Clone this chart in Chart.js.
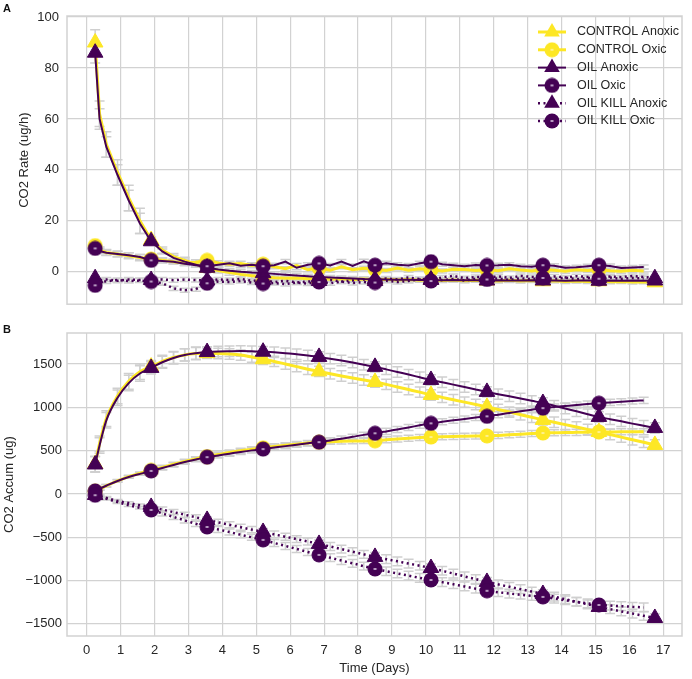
<!DOCTYPE html>
<html>
<head>
<meta charset="utf-8">
<script src="https://cdn.jsdelivr.net/npm/chart.js@4.4.1/dist/chart.umd.min.js"></script>
<style>
  html, body { margin: 0; padding: 0; background: #fff; }
  #wrap { position: relative; width: 692px; height: 679px; }
  canvas { position: absolute; left: 0; }
  #rateChart { top: 0; }
  #accumChart { top: 320px; }
</style>
</head>
<body>
<div id="wrap">
  <canvas id="rateChart" width="692" height="320"></canvas>
  <canvas id="accumChart" width="692" height="359"></canvas>
</div>
<script>
// sampling times (days) and the ones that carry a marker
const days = [0.25, 0.38, 0.58, 0.91, 1.24, 1.57, 1.90, 2.23, 2.56, 2.89,
  3.22, 3.55, 3.88, 4.21, 4.54, 4.87, 5.20, 5.53, 5.86, 6.19,
  6.52, 6.85, 7.18, 7.51, 7.84, 8.17, 8.50, 8.83, 9.16, 9.49,
  9.82, 10.15, 10.48, 10.81, 11.14, 11.47, 11.80, 12.13, 12.46, 12.79,
  13.12, 13.45, 13.78, 14.11, 14.44, 14.77, 15.10, 15.43, 15.76, 16.09,
  16.42, 16.75];
const markerDays = [0.25, 1.90, 3.55, 5.20, 6.85, 8.50, 10.15, 11.80, 13.45, 15.10, 16.75];

const seriesNames = ['CONTROL Anoxic', 'CONTROL Oxic', 'OIL Anoxic', 'OIL Oxic', 'OIL KILL Anoxic', 'OIL KILL Oxic'];

// panel A : CO2 rate (ug/h)
const ctrlAnoxRate = [90, 62, 50, 39, 29, 20, 12.5, 8.5, 6, 4.5,
  3, 1.5, 0.5, -0.3, -1, -1.5, -2, -2.3, -2.5, -2.4,
  -2.7, -2.6, -2.9, -2.7, -3.0, -2.8, -3.1, -2.9, -3.2, -3.0,
  -3.3, -3.1, -3.4, -3.2, -3.5, -3.3, -3.4, -3.6, -3.3, -3.6,
  -3.4, -3.7, -3.5, -3.8, -3.6, -3.8, -3.7, -3.9, -3.8, -4.0,
  -3.9, -4.1];
const ctrlOxRate = [10.3, 8.5, 7.6, 7, 6.3, 5.6, 5, 4.6, 4, 3.5,
  3.8, 4.5, 3.5, 3.0, 3.3, 2.5, 3.0, 2.0, 1.2, 2.5,
  0.8, 1.5, 0.6, 2.0, 0.8, 1.4, 1.0, 0.5, 1.5, 0.6,
  1.2, 0.8, 0.3, 1.0, 0.9, 0.5, 0.8, 0.4, 1.2, 0.7,
  0.3, 0.9, 0.6, 0.2, 0.8, 0.5, 0.9, 0.4, 0.2, 0.6,
  0.3, null];
const oilAnoxRate = [86, 60, 49, 38, 28, 19, 12, 8, 5.5, 4,
  2.8, 1.6, 0.9, 0.4, 0, -0.3, -0.5, -0.8, -1.1, -1.4,
  -1.7, -2.0, -2.2, -2.4, -2.6, -2.8, -2.9, -3.0, -3.1, -3.1,
  -3.2, -3.2, -3.3, -3.2, -3.3, -3.3, -3.4, -3.3, -3.4, -3.4,
  -3.3, -3.4, -3.4, -3.5, -3.4, -3.4, -3.5, -3.4, -3.5, -3.4,
  -3.5, -3.4];
const oilOxRate = [9.2, 8.2, 7.5, 7, 6.5, 5.8, 4.5, 4.3, 4, 3.2,
  2.6, 2.2, 2.8, 3.4, 2.4, 2.8, 2.2, 2.6, 4.0, 1.6,
  2.8, 3.3, 2.5, 4.0, 2.3, 4.1, 2.6, 3.4, 2.8, 2.5,
  3.4, 4.0, 3.0, 2.6, 2.2, 2.7, 2.5, 2.6, 2.8, 2.2,
  2.0, 2.6, 2.4, 1.6, 1.8, 2.2, 2.6, 2.3, 1.5, 1.7,
  1.9, null];
const killAnoxRate = [-2.5, -3.3, -3.0, -3.5, -3.0, -3.2, -3.2, -3.0, -3.3, -3.0,
  -3.2, -3.4, -3.0, -3.2, -2.8, -3.5, -3.2, -4.0, -3.5, -4.2,
  -3.8, -3.6, -3.2, -3.8, -3.4, -3.0, -3.6, -2.6, -3.0, -2.2,
  -2.8, -3.0, -2.2, -1.6, -2.5, -2.0, -2.2, -1.8, -2.4, -1.6,
  -2.0, -2.3, -1.8, -2.2, -1.7, -2.0, -2.4, -1.8, -2.1, -1.6,
  -2.0, -2.5];
const killOxRate = [-5.3, -3.5, -3.8, -3.2, -3.6, -3.4, -3.8, -4.5, -6.5, -7.2,
  -6.8, -4.5, -3.8, -4.0, -3.6, -4.2, -4.6, -4.4, -4.8, -4.2,
  -4.6, -4.0, -4.5, -3.8, -4.4, -4.0, -4.2, -3.5, -4.0, -3.6,
  -3.0, -3.6, -3.2, -2.8, -3.4, -2.7, -3.0, -2.6, -3.2, -2.5,
  -2.9, -2.4, -2.8, -2.3, -2.9, -2.4, -2.7, -2.2, -2.8, -2.4,
  -2.6, null];

// panel B : CO2 accumulated (ug)
const ctrlAnoxAcc = [345, 580, 870, 1130, 1300, 1410, 1470, 1530, 1575, 1605,
  1620, 1625, 1622, 1615, 1603, 1580, 1555, 1530, 1500, 1470,
  1440, 1415, 1388, 1362, 1338, 1315, 1293, 1265, 1235, 1205,
  1175, 1143, 1115, 1087, 1060, 1033, 1005, 975, 945, 915,
  885, 855, 827, 800, 772, 744, 716, 686, 656, 626,
  596, 566];
const ctrlOxAcc = [30, 58, 95, 152, 200, 238, 272, 307, 342, 376,
  405, 432, 455, 478, 498, 515, 532, 548, 562, 575,
  587, 597, 603, 607, 610, 612, 614, 625, 635, 644,
  651, 657, 661, 664, 666, 668, 670, 676, 683, 690,
  697, 703, 706, 709, 711, 713, 715, 716, 717, 717,
  718, null];
const oilAnoxAcc = [340, 560, 850, 1110, 1280, 1390, 1455, 1520, 1570, 1605,
  1625, 1638, 1645, 1648, 1650, 1648, 1642, 1635, 1625, 1612,
  1598, 1582, 1562, 1540, 1517, 1492, 1467, 1438, 1408, 1378,
  1347, 1316, 1289, 1262, 1234, 1206, 1178, 1152, 1127, 1101,
  1075, 1050, 1018, 986, 954, 921, 889, 863, 838, 812,
  787, 762];
const oilOxAcc = [35, 60, 95, 150, 195, 232, 266, 300, 335, 368,
  398, 425, 445, 465, 485, 503, 518, 535, 552, 568,
  584, 598, 618, 638, 660, 682, 700, 722, 745, 768,
  792, 815, 833, 850, 866, 882, 896, 915, 935, 955,
  973, 990, 1003, 1015, 1027, 1038, 1047, 1057, 1065, 1073,
  1080, null];
const killAnoxAcc = [-12, -25, -45, -80, -105, -130, -150, -180, -210, -240,
  -270, -300, -328, -356, -384, -412, -439, -467, -494, -522,
  -549, -577, -607, -637, -667, -697, -727, -753, -778, -804,
  -829, -855, -887, -919, -952, -984, -1016, -1044, -1072, -1099,
  -1127, -1155, -1185, -1215, -1245, -1275, -1305, -1330, -1356, -1381,
  -1407, -1432];
const killOxAcc = [-15, -30, -55, -95, -130, -160, -185, -225, -265, -305,
  -345, -381, -410, -440, -471, -501, -531, -566, -600, -635,
  -670, -704, -736, -769, -801, -834, -866, -892, -918, -943,
  -969, -993, -1018, -1043, -1068, -1094, -1118, -1135, -1150, -1164,
  -1177, -1189, -1208, -1227, -1245, -1264, -1282, -1289, -1296, -1303,
  -1310, null];

// error (+/-) per marker interval
const rateErr = [
  [5, 1.2, 1, 0.8, 0.8, 0.8, 0.8, 0.8, 0.8, 0.8, 0.8],
  [1.2, 0.9, 0.9, 0.8, 0.8, 0.8, 0.8, 0.8, 0.8, 0.8, 0.8],
  [4, 1, 0.8, 0.8, 0.8, 0.8, 0.8, 0.8, 0.8, 0.8, 0.8],
  [1, 0.8, 0.8, 0.8, 0.8, 0.8, 0.8, 0.8, 0.8, 0.8, 0.8],
  [0.8, 0.8, 0.8, 0.8, 0.8, 0.8, 0.8, 0.8, 0.8, 0.8, 0.8],
  [0.8, 0.8, 0.8, 0.8, 0.8, 0.8, 0.8, 0.8, 0.8, 0.8, 0.8]
];
const accErr = [
  [90, 70, 60, 60, 60, 60, 60, 60, 60, 60, 60],
  [15, 25, 30, 30, 30, 35, 35, 35, 35, 35, 35],
  [90, 70, 60, 60, 60, 60, 60, 60, 60, 60, 60],
  [15, 25, 30, 30, 30, 35, 35, 35, 35, 35, 35],
  [15, 30, 35, 40, 45, 50, 50, 50, 50, 50, 50],
  [15, 30, 35, 40, 45, 50, 50, 50, 50, 50, 50]
];

const xTicks = [0, 1, 2, 3, 4, 5, 6, 7, 8, 9, 10, 11, 12, 13, 14, 15, 16, 17];
const rateTicks = [0, 20, 40, 60, 80, 100];
const accTicks = [-1500, -1000, -500, 0, 500, 1000, 1500];

const YELLOW = '#fde725';
const PURPLE = '#440154';
const GRID = '#d2d2d2';
const TEXT = '#262626';
const FONT = "'Liberation Sans', Arial, sans-serif";

const styles = [
  { color: YELLOW, width: 3, dash: [], marker: 'triangle' },
  { color: YELLOW, width: 3, dash: [], marker: 'circle' },
  { color: PURPLE, width: 2, dash: [], marker: 'triangle' },
  { color: PURPLE, width: 2, dash: [], marker: 'circle' },
  { color: PURPLE, width: 2.5, dash: [2, 3.5], marker: 'triangle' },
  { color: PURPLE, width: 2.5, dash: [2, 3.5], marker: 'circle' }
];

// filled circle with a small light dash in the middle
function circleMarker(fill, dot) {
  const c = document.createElement('canvas');
  c.width = 16; c.height = 16;
  const g = c.getContext('2d');
  g.fillStyle = fill;
  g.beginPath(); g.arc(8, 8, 7.5, 0, Math.PI * 2); g.fill();
  g.fillStyle = dot;
  g.fillRect(6.5, 7.3, 3, 1.4);
  return c;
}
const circles = {};
circles[YELLOW] = circleMarker(YELLOW, '#fff6b8');
circles[PURPLE] = circleMarker(PURPLE, '#e8dcf0');

function segmentOf(d) {
  let k = 0;
  markerDays.forEach((m, i) => { if (m <= d + 1e-6) k = i; });
  return k;
}

function buildDatasets(seriesList, errList, smooth) {
  return seriesList.map((vals, i) => {
    const st = styles[i];
    return {
      label: seriesNames[i],
      data: days.map((d, j) => ({ x: d, y: vals[j] })),
      errs: errList[i],
      borderColor: st.color,
      backgroundColor: st.color,
      borderWidth: st.width,
      borderDash: st.dash,
      borderCapStyle: 'butt',
      tension: 0,
      cubicInterpolationMode: smooth ? 'monotone' : 'default',
      spanGaps: false,
      order: 6 - i,
      pointStyle: st.marker === 'triangle' ? 'triangle' : circles[st.color],
      pointBorderWidth: 1,
      pointBorderColor: st.color,
      pointBackgroundColor: st.color,
      pointRadius: (c) => markerDays.includes(days[c.dataIndex]) ? 9 : 0
    };
  });
}

const errorBars = {
  id: 'errorBars',
  beforeDatasetsDraw(chart) {
    const { ctx, chartArea } = chart;
    const xs = chart.scales.x, ys = chart.scales.y;
    ctx.save();
    ctx.beginPath();
    ctx.rect(chartArea.left, chartArea.top, chartArea.right - chartArea.left, chartArea.bottom - chartArea.top);
    ctx.clip();
    ctx.strokeStyle = '#cfcfcf';
    ctx.lineWidth = 1.5;
    chart.data.datasets.forEach(ds => {
      ds.data.forEach(p => {
        if (p.y === null) return;
        const e = ds.errs[segmentOf(p.x)];
        const x = xs.getPixelForValue(p.x);
        const y1 = ys.getPixelForValue(p.y - e);
        const y2 = ys.getPixelForValue(p.y + e);
        ctx.beginPath();
        ctx.moveTo(x, y1); ctx.lineTo(x, y2);
        ctx.moveTo(x - 5, y1); ctx.lineTo(x + 5, y1);
        ctx.moveTo(x - 5, y2); ctx.lineTo(x + 5, y2);
        ctx.stroke();
      });
    });
    ctx.restore();
  },
  afterDraw(chart, args, opts) {
    const { ctx, chartArea } = chart;
    ctx.save();
    // frame round the plot
    ctx.strokeStyle = GRID;
    ctx.lineWidth = 1.5;
    ctx.strokeRect(chartArea.left, chartArea.top, chartArea.right - chartArea.left, chartArea.bottom - chartArea.top);
    // panel letter
    ctx.fillStyle = '#111';
    ctx.font = 'bold 11px ' + FONT;
    ctx.textBaseline = 'top';
    ctx.fillText(opts.letter, 3, opts.letterY);
    // legend
    if (opts.legend) {
      ctx.font = '12.5px ' + FONT;
      ctx.textBaseline = 'middle';
      chart.data.datasets.forEach((ds, i) => {
        const st = styles[i];
        const y = 32 + i * 17.8;
        ctx.strokeStyle = st.color;
        ctx.lineWidth = st.width;
        ctx.setLineDash(st.dash);
        ctx.beginPath(); ctx.moveTo(538, y); ctx.lineTo(566, y); ctx.stroke();
        ctx.setLineDash([]);
        if (st.marker === 'triangle') {
          ctx.fillStyle = st.color;
          ctx.beginPath();
          ctx.moveTo(552, y - 9);
          ctx.lineTo(552 + 7.8, y + 4.5);
          ctx.lineTo(552 - 7.8, y + 4.5);
          ctx.closePath();
          ctx.fill();
        } else {
          ctx.drawImage(circles[st.color], 544, y - 8);
        }
        ctx.fillStyle = TEXT;
        ctx.fillText(ds.label, 577, y);
      });
    }
    ctx.restore();
  }
};

function fmt(v) { return v < 0 ? '\u2212' + Math.abs(v) : String(v); }

function makeScales(yMin, yMax, yTicks, yTitle, yTitlePad, tickPad, showX) {
  return {
    x: {
      type: 'linear',
      min: -0.58,
      max: 17.55,
      afterBuildTicks: s => { s.ticks = xTicks.map(v => ({ value: v })); },
      afterFit: s => { s.height = showX ? 43 : 0; },
      grid: { color: GRID, lineWidth: 1.2, drawTicks: false },
      border: { display: false },
      ticks: { display: showX, color: TEXT, padding: 7, font: { family: FONT, size: 13 } },
      title: { display: showX, text: 'Time (Days)', color: TEXT, padding: { top: 0, bottom: 3 }, font: { family: FONT, size: 13 } }
    },
    y: {
      min: yMin,
      max: yMax,
      afterBuildTicks: s => { s.ticks = yTicks.map(v => ({ value: v })); },
      afterFit: s => { s.width = 67; },
      grid: { color: GRID, lineWidth: 1.2, drawTicks: false },
      border: { display: false },
      ticks: { color: TEXT, padding: tickPad, callback: fmt, font: { family: FONT, size: 13 } },
      title: { display: true, text: yTitle, color: TEXT, padding: { top: yTitlePad, bottom: 0 }, font: { family: FONT, size: 13 } }
    }
  };
}

const commonOpts = {
  responsive: false,
  animation: false,
  events: [],
  plugins: { legend: { display: false }, tooltip: { enabled: false } }
};

new Chart(document.getElementById('rateChart'), {
  type: 'line',
  data: {
    datasets: buildDatasets([ctrlAnoxRate, ctrlOxRate, oilAnoxRate, oilOxRate, killAnoxRate, killOxRate], rateErr, false)
  },
  options: Object.assign({}, commonOpts, {
    layout: { padding: { top: 16, right: 4, bottom: 2, left: 0 } },
    scales: makeScales(-12.7, 100.4, rateTicks, 'CO2 Rate (ug/h)', 17, 8, false),
    plugins: Object.assign({}, commonOpts.plugins, { errorBars: { letter: 'A', letterY: 3, legend: true } })
  }),
  plugins: [errorBars]
});

new Chart(document.getElementById('accumChart'), {
  type: 'line',
  data: {
    datasets: buildDatasets([ctrlAnoxAcc, ctrlOxAcc, oilAnoxAcc, oilOxAcc, killAnoxAcc, killOxAcc], accErr, true)
  },
  options: Object.assign({}, commonOpts, {
    layout: { padding: { top: 13, right: 4, bottom: 0, left: 0 } },
    scales: makeScales(-1640, 1858, accTicks, 'CO2 Accum (ug)', 2, 5, true),
    plugins: Object.assign({}, commonOpts.plugins, { errorBars: { letter: 'B', letterY: 4, legend: false } })
  }),
  plugins: [errorBars]
});
</script>
</body>
</html>
